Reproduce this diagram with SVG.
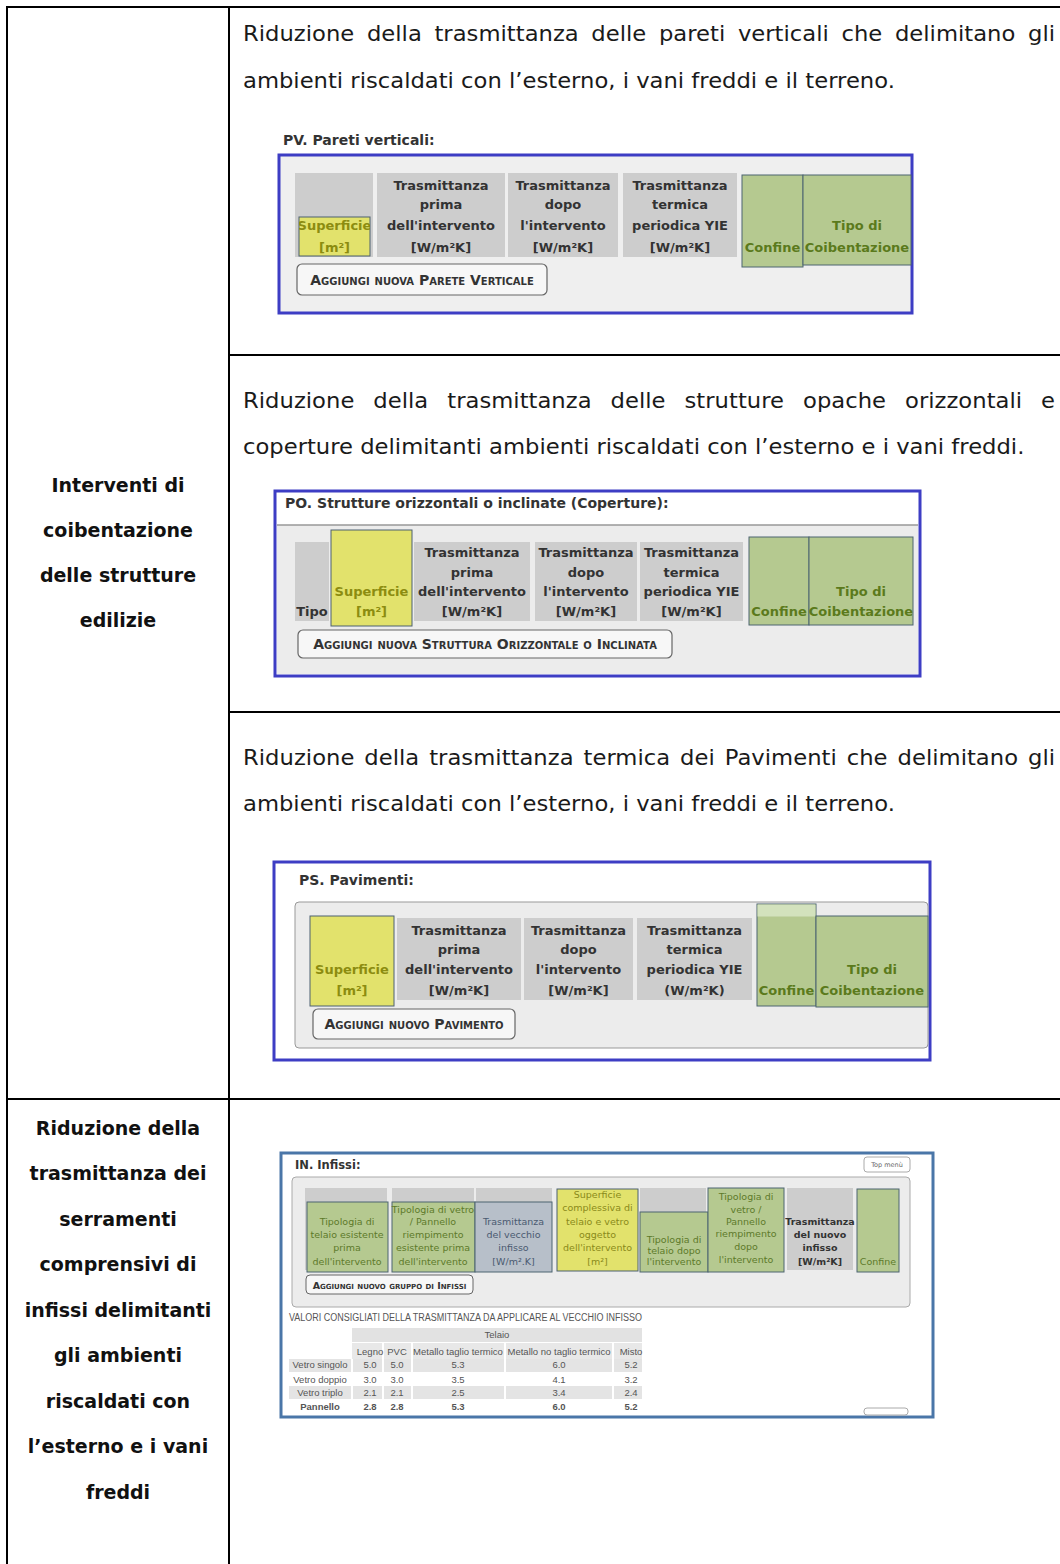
<svg xmlns="http://www.w3.org/2000/svg" width="1060" height="1564" viewBox="0 0 1060 1564">
<style>
.body{font-family:"DejaVu Sans","Liberation Sans",sans-serif;font-size:21px;fill:#1a1a1a}
.lbl{font-family:"DejaVu Sans","Liberation Sans",sans-serif;font-size:19px;font-weight:bold;fill:#111;text-anchor:middle}
.grid{stroke:#000;stroke-width:2;fill:none}
.ttl{font-family:"DejaVu Sans",Verdana,sans-serif;font-size:14px;font-weight:bold;fill:#333}
.frame{fill:#fff;stroke:#3d3dc4;stroke-width:3}
.panel{fill:#ececec}
.gc{fill:#cdcdcd}
.yc{fill:#e2e26c;stroke:#4d6070;stroke-width:1}
.grn{fill:#b5c990;stroke:#4d6470;stroke-width:1}
.ht{font-family:"DejaVu Sans",Verdana,sans-serif;font-size:13px;font-weight:bold;fill:#333;text-anchor:middle}
.gt{font-family:"DejaVu Sans",Verdana,sans-serif;font-size:13px;font-weight:bold;fill:#5b7a1c;text-anchor:middle}
.yt{font-family:"DejaVu Sans",Verdana,sans-serif;font-size:13px;font-weight:bold;fill:#8c8c10;text-anchor:middle}
.btn{fill:#f7f7f7;stroke:#666;stroke-width:1.2}
.bt{font-family:"DejaVu Sans",Verdana,sans-serif;font-size:14px;font-weight:bold;fill:#333;font-variant:small-caps;text-anchor:middle}
.it{font-family:"DejaVu Sans",Verdana,sans-serif;font-size:9.5px;text-anchor:middle}
.tb{font-family:"Liberation Sans",Arial,sans-serif;font-size:9.5px;fill:#555;text-anchor:middle}
</style>
<defs>
<clipPath id="clipSupPV"><rect x="299" y="217" width="71" height="39"/></clipPath>
</defs>

<g id="table-grid">
<line class="grid" x1="7" y1="7" x2="1060" y2="7"/>
<line class="grid" x1="7" y1="6" x2="7" y2="1564"/>
<line class="grid" x1="229" y1="6" x2="229" y2="1564"/>
<line class="grid" x1="229" y1="355" x2="1060" y2="355"/>
<line class="grid" x1="229" y1="712" x2="1060" y2="712"/>
<line class="grid" x1="7" y1="1099" x2="1060" y2="1099"/>
</g>

<g id="label-coibentazione">
<text class="lbl" x="118" y="492">Interventi di</text>
<text class="lbl" x="118" y="537">coibentazione</text>
<text class="lbl" x="118" y="582">delle strutture</text>
<text class="lbl" x="118" y="627">edilizie</text>
</g>

<g id="label-serramenti">
<text class="lbl" x="118" y="1135">Riduzione della</text>
<text class="lbl" x="118" y="1180">trasmittanza dei</text>
<text class="lbl" x="118" y="1226">serramenti</text>
<text class="lbl" x="118" y="1271">comprensivi di</text>
<text class="lbl" x="118" y="1317">infissi delimitanti</text>
<text class="lbl" x="118" y="1362">gli ambienti</text>
<text class="lbl" x="118" y="1408">riscaldati con</text>
<text class="lbl" x="118" y="1453">l’esterno e i vani</text>
<text class="lbl" x="118" y="1499">freddi</text>
</g>

<g id="text-pareti" transform="scale(1.08 1)">
<text class="body" x="225" y="41" textLength="751.9" lengthAdjust="spacing" word-spacing="5">Riduzione della trasmittanza delle pareti verticali che delimitano gli</text>
<text class="body" x="225" y="88">ambienti riscaldati con l’esterno, i vani freddi e il terreno.</text>
</g>

<g id="text-coperture" transform="scale(1.08 1)">
<text class="body" x="225" y="408" textLength="751.9" lengthAdjust="spacing" word-spacing="10.9">Riduzione della trasmittanza delle strutture opache orizzontali e</text>
<text class="body" x="225" y="454">coperture delimitanti ambienti riscaldati con l’esterno e i vani freddi.</text>
</g>

<g id="text-pavimenti" transform="scale(1.08 1)">
<text class="body" x="225" y="765" textLength="751.9" lengthAdjust="spacing" word-spacing="2.5">Riduzione della trasmittanza termica dei Pavimenti che delimitano gli</text>
<text class="body" x="225" y="811">ambienti riscaldati con l’esterno, i vani freddi e il terreno.</text>
</g>

<g id="shot-pv">
<text class="ttl" x="283" y="145">PV. Pareti verticali:</text>
<rect x="279" y="155" width="633" height="158" fill="#efefef" stroke="#3d3dc4" stroke-width="3"/>
<rect class="gc" x="295" y="173" width="78" height="84"/>
<rect class="yc" x="299" y="217" width="71" height="39"/>
<g clip-path="url(#clipSupPV)">
<text class="yt" x="334.5" y="230">Superficie</text>
<text class="yt" x="334.5" y="252">[m²]</text>
</g>
<rect class="gc" x="377" y="173" width="128" height="84"/>
<text class="ht" x="441" y="190">Trasmittanza</text>
<text class="ht" x="441" y="209">prima</text>
<text class="ht" x="441" y="230">dell'intervento</text>
<text class="ht" x="441" y="252">[W/m²K]</text>
<rect class="gc" x="508" y="173" width="110" height="84"/>
<text class="ht" x="563" y="190">Trasmittanza</text>
<text class="ht" x="563" y="209">dopo</text>
<text class="ht" x="563" y="230">l'intervento</text>
<text class="ht" x="563" y="252">[W/m²K]</text>
<rect class="gc" x="623" y="173" width="114" height="84"/>
<text class="ht" x="680" y="190">Trasmittanza</text>
<text class="ht" x="680" y="209">termica</text>
<text class="ht" x="680" y="230">periodica YIE</text>
<text class="ht" x="680" y="252">[W/m²K]</text>
<rect class="grn" x="742" y="175" width="61" height="92"/>
<text class="gt" x="772.5" y="252">Confine</text>
<rect class="grn" x="803" y="175" width="108" height="90"/>
<text class="gt" x="857" y="230">Tipo di</text>
<text class="gt" x="857" y="252">Coibentazione</text>
<rect class="btn" x="297" y="264" width="250" height="31" rx="5"/>
<text class="bt" x="422" y="285">Aggiungi nuova Parete Verticale</text>
</g>

<g id="shot-po">
<rect class="frame" x="275" y="491" width="645" height="185"/>
<text class="ttl" x="285" y="508">PO. Strutture orizzontali o inclinate (Coperture):</text>
<rect class="panel" x="277" y="525" width="641" height="149"/>
<line x1="277" y1="525" x2="918" y2="525" stroke="#999" stroke-width="1.5"/>
<rect class="gc" x="295" y="542" width="34" height="79"/>
<text class="ht" x="312" y="616">Tipo</text>
<rect class="yc" x="331" y="530" width="81" height="96"/>
<text class="yt" x="371.5" y="596">Superficie</text>
<text class="yt" x="371.5" y="616">[m²]</text>
<rect class="gc" x="414" y="542" width="116" height="79"/>
<text class="ht" x="472" y="557">Trasmittanza</text>
<text class="ht" x="472" y="577">prima</text>
<text class="ht" x="472" y="596">dell'intervento</text>
<text class="ht" x="472" y="616">[W/m²K]</text>
<rect class="gc" x="535" y="542" width="102" height="79"/>
<text class="ht" x="586" y="557">Trasmittanza</text>
<text class="ht" x="586" y="577">dopo</text>
<text class="ht" x="586" y="596">l'intervento</text>
<text class="ht" x="586" y="616">[W/m²K]</text>
<rect class="gc" x="640" y="542" width="103" height="79"/>
<text class="ht" x="691.5" y="557">Trasmittanza</text>
<text class="ht" x="691.5" y="577">termica</text>
<text class="ht" x="691.5" y="596">periodica YIE</text>
<text class="ht" x="691.5" y="616">[W/m²K]</text>
<rect class="grn" x="749" y="537" width="60" height="88"/>
<text class="gt" x="779" y="616">Confine</text>
<rect class="grn" x="809" y="537" width="104" height="88"/>
<text class="gt" x="861" y="596">Tipo di</text>
<text class="gt" x="861" y="616">Coibentazione</text>
<rect class="btn" x="298" y="630" width="374" height="28" rx="5"/>
<text class="bt" x="485" y="649">Aggiungi nuova Struttura Orizzontale o Inclinata</text>
</g>

<g id="shot-ps">
<rect class="frame" x="274" y="862" width="656" height="198"/>
<text class="ttl" x="299" y="885">PS. Pavimenti:</text>
<rect x="295" y="902" width="633" height="146" rx="4" fill="#ececec" stroke="#999" stroke-width="1"/>
<rect class="yc" x="310" y="916" width="84" height="90"/>
<text class="yt" x="352" y="974">Superficie</text>
<text class="yt" x="352" y="995">[m²]</text>
<rect class="gc" x="397" y="918" width="124" height="82"/>
<text class="ht" x="459" y="935">Trasmittanza</text>
<text class="ht" x="459" y="954">prima</text>
<text class="ht" x="459" y="974">dell'intervento</text>
<text class="ht" x="459" y="995">[W/m²K]</text>
<rect class="gc" x="524" y="918" width="109" height="82"/>
<text class="ht" x="578.5" y="935">Trasmittanza</text>
<text class="ht" x="578.5" y="954">dopo</text>
<text class="ht" x="578.5" y="974">l'intervento</text>
<text class="ht" x="578.5" y="995">[W/m²K]</text>
<rect class="gc" x="637" y="918" width="115" height="82"/>
<text class="ht" x="694.5" y="935">Trasmittanza</text>
<text class="ht" x="694.5" y="954">termica</text>
<text class="ht" x="694.5" y="974">periodica YIE</text>
<text class="ht" x="694.5" y="995">(W/m²K)</text>
<rect class="grn" x="757" y="904" width="59" height="102"/>
<rect x="757.5" y="904.5" width="58" height="12" fill="#d3e2bd"/>
<text class="gt" x="786.5" y="995">Confine</text>
<rect class="grn" x="816" y="916" width="112" height="91"/>
<text class="gt" x="872" y="974">Tipo di</text>
<text class="gt" x="872" y="995">Coibentazione</text>
<rect class="btn" x="313" y="1009" width="202" height="30" rx="5"/>
<text class="bt" x="414" y="1029">Aggiungi nuovo Pavimento</text>
</g>

<g id="shot-in">
<rect x="281" y="1153" width="652" height="264" fill="#fff" stroke="#4a76a8" stroke-width="3"/>
<text class="ttl" x="295" y="1169" style="font-size:11.5px">IN. Infissi:</text>
<rect x="864" y="1157" width="46" height="15" rx="3" fill="#fff" stroke="#aaa"/>
<text class="it" x="887" y="1167" style="font-size:6.5px" fill="#666">Top menù</text>
<rect x="292" y="1177" width="618" height="130" rx="4" fill="#ececec" stroke="#aaa"/>
<rect class="gc" x="305" y="1188" width="82" height="82"/>
<rect class="gc" x="392" y="1188" width="82" height="82"/>
<rect class="gc" x="476" y="1188" width="76" height="82"/>
<rect class="gc" x="640" y="1188" width="66" height="82"/>
<rect class="gc" x="787" y="1188" width="66" height="82"/>
<rect class="grn" x="307" y="1202" width="81" height="70"/>
<g class="it" fill="#5d7a2a">
<text x="347" y="1225">Tipologia di</text>
<text x="347" y="1238">telaio esistente</text>
<text x="347" y="1251">prima</text>
<text x="347" y="1265">dell'intervento</text>
</g>
<rect class="grn" x="392" y="1202" width="83" height="70"/>
<g class="it" fill="#5d7a2a">
<text x="433" y="1213">Tipologia di vetro</text>
<text x="433" y="1225">/ Pannello</text>
<text x="433" y="1238">riempimento</text>
<text x="433" y="1251">esistente prima</text>
<text x="433" y="1265">dell'intervento</text>
</g>
<rect x="475" y="1202" width="77" height="70" fill="#b7bfc9" stroke="#4d6470"/>
<g class="it" fill="#4a5a70">
<text x="513.5" y="1225">Trasmittanza</text>
<text x="513.5" y="1238">del vecchio</text>
<text x="513.5" y="1251">infisso</text>
<text x="513.5" y="1265">[W/m².K]</text>
</g>
<rect class="yc" x="557" y="1189" width="81" height="82"/>
<g class="it" fill="#8a8a1a">
<text x="597.5" y="1198">Superficie</text>
<text x="597.5" y="1211">complessiva di</text>
<text x="597.5" y="1225">telaio e vetro</text>
<text x="597.5" y="1238">oggetto</text>
<text x="597.5" y="1251">dell'intervento</text>
<text x="597.5" y="1265">[m²]</text>
</g>
<rect class="grn" x="640" y="1212" width="68" height="60"/>
<g class="it" fill="#5d7a2a">
<text x="674" y="1243">Tipologia di</text>
<text x="674" y="1254">telaio dopo</text>
<text x="674" y="1265">l'intervento</text>
</g>
<rect class="grn" x="708" y="1188" width="76" height="84"/>
<g class="it" fill="#5d7a2a">
<text x="746" y="1200">Tipologia di</text>
<text x="746" y="1213">vetro /</text>
<text x="746" y="1225">Pannello</text>
<text x="746" y="1237">riempimento</text>
<text x="746" y="1250">dopo</text>
<text x="746" y="1263">l'intervento</text>
</g>
<g class="it" fill="#333" font-weight="bold">
<text x="820" y="1225">Trasmittanza</text>
<text x="820" y="1238">del nuovo</text>
<text x="820" y="1251">infisso</text>
<text x="820" y="1265">[W/m²K]</text>
</g>
<rect class="grn" x="857" y="1189" width="42" height="83"/>
<text class="it" x="878" y="1265" fill="#5d7a2a">Confine</text>
<rect x="306" y="1275" width="167" height="19" rx="4" fill="#f7f7f7" stroke="#666"/>
<text class="bt" x="389.5" y="1289" style="font-size:9.5px">Aggiungi nuovo gruppo di Infissi</text>
<text x="289" y="1321" font-family="Liberation Sans, Arial, sans-serif" font-size="10" fill="#555" textLength="353" lengthAdjust="spacingAndGlyphs">VALORI CONSIGLIATI DELLA TRASMITTANZA DA APPLICARE AL VECCHIO INFISSO</text>
<rect x="352" y="1328" width="290" height="14" fill="#e2e2e2"/>
<rect x="352" y="1343" width="290" height="16" fill="#e8e8e8"/>
<rect x="289" y="1359" width="353" height="13" fill="#e4e4e4"/>
<rect x="289" y="1386" width="353" height="13" fill="#e4e4e4"/>
<g stroke="#fff" stroke-width="2">
<line x1="383" y1="1343" x2="383" y2="1412"/>
<line x1="412" y1="1343" x2="412" y2="1412"/>
<line x1="505" y1="1343" x2="505" y2="1412"/>
<line x1="613" y1="1343" x2="613" y2="1412"/>
<line x1="352" y1="1359" x2="352" y2="1412"/>
</g>
<text class="tb" x="497" y="1338">Telaio</text>
<g class="tb">
<text x="370" y="1355">Legno</text>
<text x="397" y="1355">PVC</text>
<text x="458" y="1355">Metallo taglio termico</text>
<text x="559" y="1355">Metallo no taglio termico</text>
<text x="631" y="1355">Misto</text>
</g>
<g class="tb">
<text x="320" y="1368">Vetro singolo</text><text x="370" y="1368">5.0</text><text x="397" y="1368">5.0</text><text x="458" y="1368">5.3</text><text x="559" y="1368">6.0</text><text x="631" y="1368">5.2</text>
<text x="320" y="1383">Vetro doppio</text><text x="370" y="1383">3.0</text><text x="397" y="1383">3.0</text><text x="458" y="1383">3.5</text><text x="559" y="1383">4.1</text><text x="631" y="1383">3.2</text>
<text x="320" y="1396">Vetro triplo</text><text x="370" y="1396">2.1</text><text x="397" y="1396">2.1</text><text x="458" y="1396">2.5</text><text x="559" y="1396">3.4</text><text x="631" y="1396">2.4</text>
</g>
<g class="tb" fill="#333" font-weight="bold">
<text x="320" y="1410">Pannello</text><text x="370" y="1410">2.8</text><text x="397" y="1410">2.8</text><text x="458" y="1410">5.3</text><text x="559" y="1410">6.0</text><text x="631" y="1410">5.2</text>
</g>
<rect x="864" y="1408" width="44" height="7" rx="3" fill="#fff" stroke="#aaa"/>
</g>
</svg>
